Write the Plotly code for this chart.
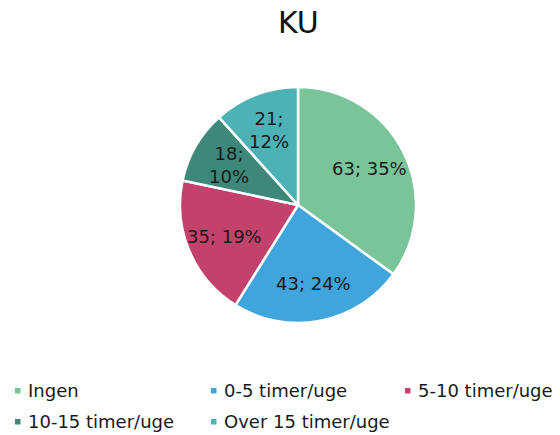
import math
import plotly.graph_objects as go

# Hours per week spent, KU respondents
categories = ["Ingen", "0-5 timer/uge", "5-10 timer/uge", "10-15 timer/uge", "Over 15 timer/uge"]
counts = [63, 43, 35, 18, 21]
colors = ["#7ac49a", "#41a5dd", "#c3426b", "#3e877b", "#4db2b6"]

total = sum(counts)
# small slices get the value and percent on two lines
seps = ["; " if c / total > 0.15 else ";<br>" for c in counts]
labels_txt = [f"{c}{s}{round(100 * c / total)}%" for c, s in zip(counts, seps)]

FONT = "'DejaVu Sans', sans-serif"
W, H = 560, 435

# pie placement in pixels
CX, CY, R = 298, 205, 118
dom_x = [(CX - R) / W, (CX + R) / W]
dom_y = [1 - (CY + R) / H, 1 - (CY - R) / H]

fig = go.Figure(
    go.Pie(
        labels=categories,
        values=counts,
        textinfo="none",
        marker=dict(colors=colors, line=dict(color="white", width=2.5)),
        sort=False,
        direction="clockwise",
        rotation=0,
        showlegend=False,
        hoverinfo="label+value+percent",
        domain=dict(x=dom_x, y=dom_y),
    )
)

annotations = []

# slice labels placed along each slice's mid angle
LABEL_R = 0.68 * R
cum = 0
for c, txt in zip(counts, labels_txt):
    mid = 2 * math.pi * (cum + c / 2) / total
    cum += c
    px = CX + LABEL_R * math.sin(mid)
    py = CY - LABEL_R * math.cos(mid)
    annotations.append(dict(text=txt, xref="paper", yref="paper",
                            x=px / W, y=1 - py / H,
                            xanchor="center", yanchor="middle", showarrow=False,
                            align="center",
                            font=dict(family=FONT, size=18, color="#1a1a1a")))

# legend drawn as small squares and text, three entries per row
col_x = [15, 211, 405]
row_y = [390, 421]
shapes = []
for i, (name, col) in enumerate(zip(categories, colors)):
    x = col_x[i % 3]
    y = row_y[i // 3]
    shapes.append(dict(type="rect", xref="paper", yref="paper",
                       x0=x / W, x1=(x + 5.5) / W,
                       y0=1 - (y + 3.5) / H, y1=1 - (y - 2) / H,
                       fillcolor=col, line=dict(width=0)))
    annotations.append(dict(text=name, xref="paper", yref="paper",
                            x=(x + 11) / W, y=1 - y / H,
                            xanchor="left", yanchor="middle", showarrow=False,
                            font=dict(family=FONT, size=18, color="#1a1a1a")))

annotations.append(dict(text="KU", xref="paper", yref="paper",
                        x=298 / W, y=1 - 22 / H, xanchor="center", yanchor="middle",
                        showarrow=False,
                        font=dict(family=FONT, size=30, color="#111111")))

fig.update_layout(
    width=W, height=H,
    margin=dict(l=0, r=0, t=0, b=0),
    paper_bgcolor="white",
    plot_bgcolor="white",
    shapes=shapes,
    annotations=annotations,
)

fig.write_html("out.html")
